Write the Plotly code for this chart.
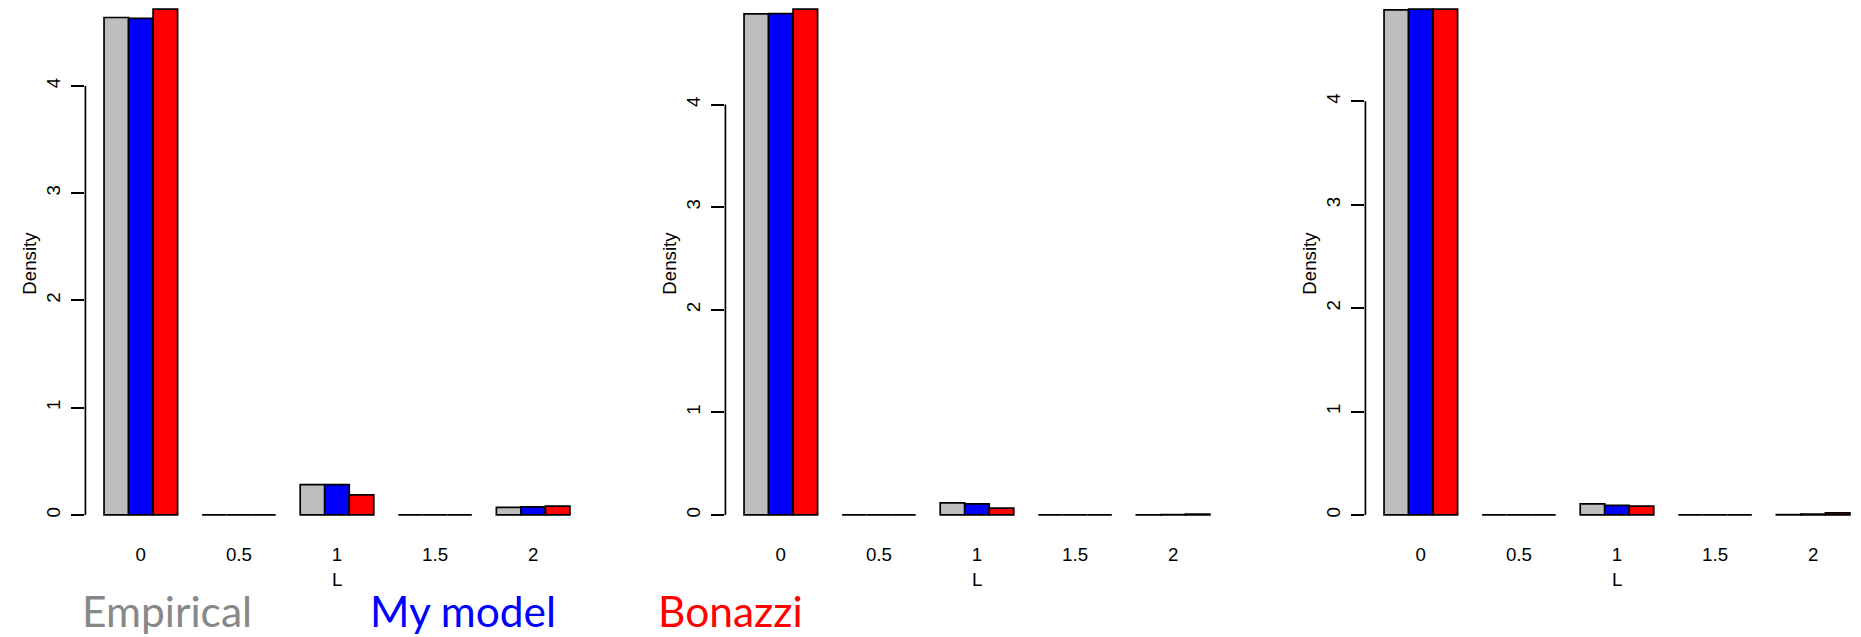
import plotly.graph_objects as go

# ---------------- data ----------------
categories = ["0", "0.5", "1", "1.5", "2"]
series_names = ["Empirical", "My model", "Bonazzi"]

panel1_empirical = [4.638, 0, 0.283, 0, 0.071]
panel1_model = [4.629, 0, 0.283, 0, 0.075]
panel1_bonazzi = [4.716, 0, 0.188, 0, 0.082]

panel2_empirical = [4.883, 0, 0.118, 0, 0.002]
panel2_model = [4.886, 0, 0.109, 0, 0.003]
panel2_bonazzi = [4.930, 0, 0.066, 0, 0.008]

panel3_empirical = [4.884, 0, 0.108, 0, 0.003]
panel3_model = [4.892, 0, 0.093, 0, 0.008]
panel3_bonazzi = [4.892, 0, 0.085, 0, 0.020]

y_tick_values = [0, 1, 2, 3, 4]
y_tick_labels = ["0", "1", "2", "3", "4"]
x_title = "L"
y_title = "Density"

# ---------------- style / layout ----------------
series_colors = ["#BEBEBE", "#0000FF", "#FF0000"]
legend_colors = ["#888888", "#0000FF", "#FF0000"]
panels = [
    [panel1_empirical, panel1_model, panel1_bonazzi],
    [panel2_empirical, panel2_model, panel2_bonazzi],
    [panel3_empirical, panel3_model, panel3_bonazzi],
]

W, H = 1861, 637
axis_px = [85.4, 725.4, 1365.4]   # pixel x of each y axis
cat_px = 98.08                     # pixels per category unit
x_left = -0.565                    # category coordinate at the y axis
plot_w = 503.1                     # plot region width in px
bottom_px = 535.2                  # bottom of plot region
region_h = 546.3                   # full R plot-region height

axis_font = dict(family="Liberation Sans, Arial, sans-serif", size=18.7, color="black")
legend_font_family = "Lato, Open Sans, sans-serif"

fig = go.Figure()
shapes = []
annotations = []

for k, vals in enumerate(panels):
    suffix = "" if k == 0 else str(k + 1)
    xa, ya = "x" + suffix, "y" + suffix
    for s in range(3):
        fig.add_trace(go.Bar(
            x=categories, y=vals[s], name=series_names[s],
            marker=dict(color=series_colors[s], line=dict(color="black", width=1.7)),
            xaxis=xa, yaxis=ya, showlegend=False,
        ))
    ymax = max(max(v) for v in vals)
    lo = -0.04 * ymax
    unit = region_h / (1.08 * ymax)
    hi = lo + bottom_px / unit
    left_px = axis_px[k]
    right_px = min(left_px + plot_w, W)
    fig.update_layout(**{
        "xaxis" + suffix: dict(
            domain=[left_px / W, right_px / W], anchor=ya,
            type="category", categoryorder="array", categoryarray=categories,
            range=[x_left, x_left + (right_px - left_px) / cat_px],
            showline=False, showgrid=False, zeroline=False, ticks="",
            tickfont=axis_font, ticklabelstandoff=6, fixedrange=True,
        ),
        "yaxis" + suffix: dict(
            domain=[1 - bottom_px / H, 1], anchor=xa,
            range=[lo, hi], tickvals=y_tick_values, ticktext=y_tick_labels,
            showline=False, showgrid=False, zeroline=False,
            ticks="outside", ticklen=13, tickwidth=1.7, tickcolor="black",
            tickangle=-90, tickfont=axis_font, ticklabelstandoff=4, fixedrange=True,
        ),
    })
    shapes.append(dict(type="line", xref=xa + " domain", yref=ya,
                       x0=0, x1=0, y0=y_tick_values[0], y1=y_tick_values[-1],
                       line=dict(color="black", width=1.7)))
    annotations.append(dict(text=y_title, textangle=-90, showarrow=False,
                            xref="paper", yref="paper",
                            x=(left_px - 55.7) / W, y=1 - 263 / H,
                            xanchor="center", yanchor="middle", font=axis_font))
    annotations.append(dict(text=x_title, showarrow=False,
                            xref="paper", yref="paper",
                            x=(left_px + 251.1) / W, y=1 - 579 / H,
                            xanchor="center", yanchor="middle", font=axis_font))

legend_left_px = [80.0, 367.5, 655.5]
for s in range(3):
    annotations.append(dict(text=series_names[s], showarrow=False,
                            xref="paper", yref="paper",
                            x=legend_left_px[s] / W, y=1 - 610 / H,
                            xanchor="left", yanchor="middle",
                            font=dict(family=legend_font_family, size=42.5,
                                      color=legend_colors[s])))

fig.update_layout(
    width=W, height=H, autosize=False,
    margin=dict(l=0, r=0, t=0, b=0, pad=0),
    paper_bgcolor="white", plot_bgcolor="white",
    barmode="group", bargap=0.25, bargroupgap=0,
    shapes=shapes, annotations=annotations,
)

fig.write_html("out.html")
